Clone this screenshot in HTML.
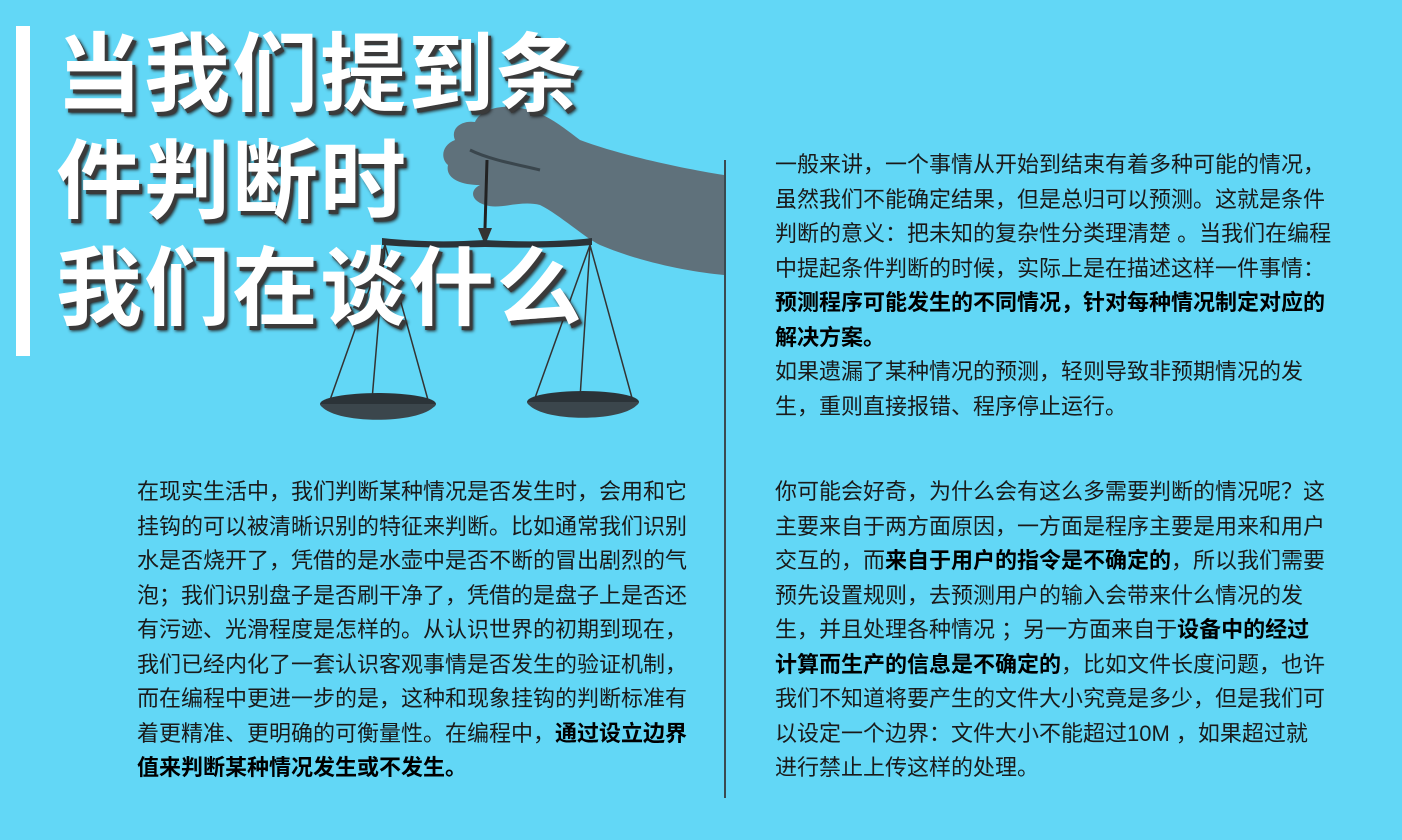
<!DOCTYPE html>
<html lang="zh">
<head>
<meta charset="utf-8">
<style>
  html,body{margin:0;padding:0;}
  body{width:1402px;height:840px;overflow:hidden;background:#62d7f6;position:relative;
    font-family:"Liberation Sans","Noto Sans CJK SC",sans-serif;color:#1a1a1a;}
  .bar{position:absolute;left:16px;top:26px;width:14px;height:330px;background:#fff;}
  .title{position:absolute;left:56px;top:22px;font-size:86px;font-weight:bold;line-height:107px;
    color:#fff;letter-spacing:2px;text-shadow:3px 4px 0 #3a3a3a,4px 5px 3px #222;white-space:nowrap;}
  .divider{position:absolute;left:724px;top:160px;width:1.5px;height:638px;background:#3a4a50;}
  .txt{position:absolute;font-size:22px;line-height:34.5px;white-space:nowrap;}
  b{font-weight:bold;color:#000;}
</style>
</head>
<body>
<div class="bar"></div>

<svg style="position:absolute;left:0;top:0" width="1402" height="840">
  <path d="M724 175 L724 275 C690 272 640 262 600 245 C585 238 560 215 540 205 C520 200 500 210 485 205 C470 200 470 190 480 185 C460 185 445 178 448 165 C440 158 442 145 455 140 C450 128 462 120 475 122 C480 110 500 104 520 108 C545 112 560 125 580 140 C620 155 680 168 724 175 Z" fill="#5f717b"/>
  <path d="M470 150 C490 160 520 165 540 170" stroke="#3a464d" stroke-width="3" fill="none"/>
  <line x1="487" y1="160" x2="485" y2="228" stroke="#222" stroke-width="3"/>
  <polygon points="478,228 492,228 485,245" fill="#333"/>
  <path d="M382 238 C420 242 450 242 485 240 C520 242 560 242 592 238 L592 245 C560 248 520 248 485 247 C450 248 420 248 382 245 Z" fill="#2b3338"/>
  <line x1="385" y1="245" x2="330" y2="400" stroke="#333" stroke-width="1.5"/>
  <line x1="385" y1="245" x2="372" y2="400" stroke="#333" stroke-width="1.5"/>
  <line x1="385" y1="245" x2="428" y2="400" stroke="#333" stroke-width="1.5"/>
  <line x1="590" y1="245" x2="535" y2="398" stroke="#333" stroke-width="1.5"/>
  <line x1="590" y1="245" x2="580" y2="398" stroke="#333" stroke-width="1.5"/>
  <line x1="590" y1="245" x2="632" y2="398" stroke="#333" stroke-width="1.5"/>
  <ellipse cx="378" cy="404" rx="58" ry="11" fill="#2b3338"/>
  <path d="M320 404 C330 425 425 425 436 404 Z" fill="#3b464c"/>
  <ellipse cx="583" cy="402" rx="56" ry="11" fill="#2b3338"/>
  <path d="M527 402 C537 423 629 423 639 402 Z" fill="#3b464c"/>
</svg>

<div class="title">当我们提到条<br>件判断时<br>我们在谈什么</div>

<div class="divider"></div>

<div class="txt" style="left:775px;top:148px">一般来讲，一个事情从开始到结束有着多种可能的情况，<br>虽然我们不能确定结果，但是总归可以预测。这就是条件<br>判断的意义：把未知的复杂性分类理清楚 。当我们在编程<br>中提起条件判断的时候，实际上是在描述这样一件事情：<br><b>预测程序可能发生的不同情况，针对每种情况制定对应的<br>解决方案。</b><br>如果遗漏了某种情况的预测，轻则导致非预期情况的发<br>生，重则直接报错、程序停止运行。</div>

<div class="txt" style="left:775px;top:475px">你可能会好奇，为什么会有这么多需要判断的情况呢？这<br>主要来自于两方面原因，一方面是程序主要是用来和用户<br>交互的，而<b>来自于用户的指令是不确定的</b>，所以我们需要<br>预先设置规则，去预测用户的输入会带来什么情况的发<br>生，并且处理各种情况 ；另一方面来自于<b>设备中的经过<br>计算而生产的信息是不确定的</b>，比如文件长度问题，也许<br>我们不知道将要产生的文件大小究竟是多少，但是我们可<br>以设定一个边界：文件大小不能超过10M ，如果超过就<br>进行禁止上传这样的处理。</div>

<div class="txt" style="left:137px;top:475px">在现实生活中，我们判断某种情况是否发生时，会用和它<br>挂钩的可以被清晰识别的特征来判断。比如通常我们识别<br>水是否烧开了，凭借的是水壶中是否不断的冒出剧烈的气<br>泡；我们识别盘子是否刷干净了，凭借的是盘子上是否还<br>有污迹、光滑程度是怎样的。从认识世界的初期到现在，<br>我们已经内化了一套认识客观事情是否发生的验证机制，<br>而在编程中更进一步的是，这种和现象挂钩的判断标准有<br>着更精准、更明确的可衡量性。在编程中，<b>通过设立边界<br>值来判断某种情况发生或不发生。</b></div>
</body>
</html>
